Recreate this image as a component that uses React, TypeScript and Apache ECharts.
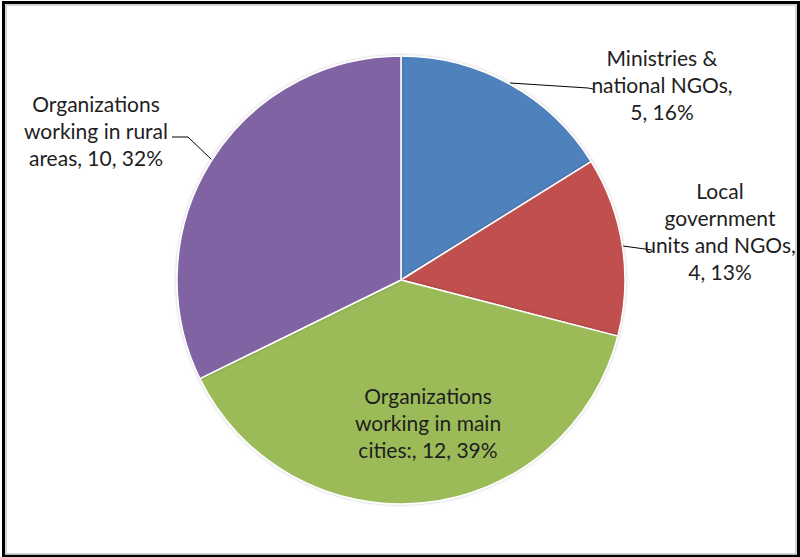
import React, { useEffect, useRef } from "react";
import * as echarts from "echarts";

// ---- data ----
const categories = [
  "Ministries &\nnational NGOs",
  "Local\ngovernment\nunits and NGOs",
  "Organizations\nworking in main\ncities:",
  "Organizations\nworking in rural\nareas",
];
const values = [5, 4, 12, 10];
const valueSeparators = [",\n", ",\n", ", ", ", "];
const colors = ["#4F81BD", "#C0504D", "#9BBB59", "#8064A2"];

// ---- label placement (layout only) ----
const labelCenters: number[][] = [
  [662, 84],
  [720, 231],
  [428, 422],
  [96, 130],
];
const leaderLines: (number[][] | null)[] = [
  [[510, 83], [588, 88], [593, 89]],
  [[623, 246], [645, 249], [652, 250]],
  null,
  [[212, 160], [188, 137], [172, 137]],
];

export default function App() {
  const ref = useRef<HTMLDivElement>(null);
  useEffect(() => {
    document.body.style.margin = "0";
    const chart = echarts.init(ref.current!, null, { renderer: "svg" });
    chart.setOption({
      animation: false,
      backgroundColor: "#ffffff",
      graphic: [
        {
          type: "rect",
          shape: { x: 3.5, y: 2.5, width: 795, height: 553.5 },
          style: { fill: "none", stroke: "#000", lineWidth: 3 },
          z: 100,
        },
        {
          type: "rect",
          shape: { x: 6, y: 5, width: 790, height: 549 },
          style: { fill: "none", stroke: "#c8c8c8", lineWidth: 1.5 },
          z: 100,
        },
      ],
      series: [
        {
          type: "pie",
          center: [401, 280],
          radius: 224,
          startAngle: 90,
          clockwise: true,
          percentPrecision: 0,
          avoidLabelOverlap: false,
          itemStyle: {
            borderColor: "#ffffff",
            borderWidth: 1.5,
            shadowBlur: 3,
            shadowColor: "rgba(0,0,0,0.25)",
          },
          label: {
            show: true,
            position: "outside",
            fontFamily: "Lato, 'Open Sans', sans-serif",
            fontSize: 21,
            lineHeight: 27,
            color: "#1e1e1e",
            formatter: (p: any) =>
              `${p.name}${valueSeparators[p.dataIndex]}${p.value}, ${p.percent}%`,
          },
          labelLine: {
            show: true,
            lineStyle: { color: "#000", width: 1 },
          },
          labelLayout: (p: any) => {
            const i = p.dataIndex;
            const res: any = {
              x: labelCenters[i][0],
              y: labelCenters[i][1],
              align: "center",
              verticalAlign: "middle",
            };
            if (leaderLines[i]) res.labelLinePoints = leaderLines[i];
            return res;
          },
          data: categories.map((name, i) => ({
            name,
            value: values[i],
            itemStyle: { color: colors[i] },
            ...(leaderLines[i]
              ? {}
              : { label: { position: "inside" }, labelLine: { show: false } }),
          })),
        },
      ],
    });
    return () => chart.dispose();
  }, []);
  return <div ref={ref} style={{ width: 800, height: 557 }} />;
}
